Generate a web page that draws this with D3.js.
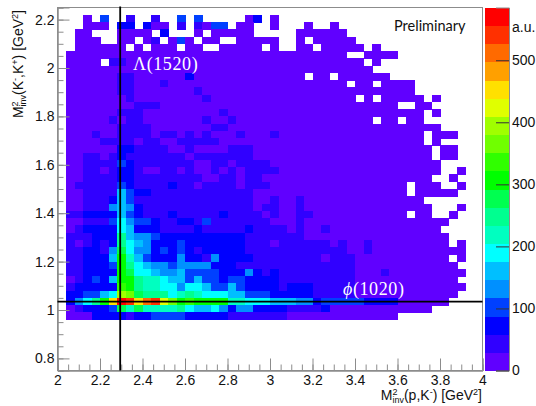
<!doctype html>
<html>
<head>
    <style>
        body { margin: 0; background: white; }
        svg { display: block; }
        text { font-family: "Liberation Sans", Arial, sans-serif; fill: #111; }
        .axis path, .axis line { stroke: #8c8c8c; stroke-width: 1; }
        .axis text { font-size: 14px; fill: #111; font-family: "Liberation Sans", Arial, sans-serif; }
    </style>
    <script src="https://d3js.org/d3.v7.min.js"></script>
</head>
<body>
    <svg width="536" height="406"></svg>
    <script>
        // bins of the 2D histogram
        var xBinWidth = 0.04,
            yBinWidth = 0.03,
            topRowLow = 2.19;

        var xTicks = [2, 2.2, 2.4, 2.6, 2.8, 3, 3.2, 3.4, 3.6, 3.8, 4];
        var yTicks = [0.8, 1, 1.2, 1.4, 1.6, 1.8, 2, 2.2];
        var zTicks = [0, 100, 200, 300, 400, 500];

        var markerMassX = 2.295,  // Lambda(1520) squared
            markerMassY = 1.035;  // phi(1020) squared

        // counts per row, top row first, left to right; 0 = empty, missing = empty
        var counts = [
            [0,0,0,15,0,102,0,0,44,0,0,44,0,0,102,0,102,0,0,0,0,0,15,73,0,15],
            [0,0,0,15,15,15,0,73,73,0,73,15,15,0,44,0,44,15,102,102,0,15,15,0,0,15,0,0,0,15,0,0,15],
            [0,0,15,15,0,0,0,15,15,15,15,0,73,0,0,0,15,0,15,15,15,15,15,0,0,0,0,0,15,15,15,15,15,15],
            [0,0,15,15,15,0,0,15,15,0,15,44,0,15,102,15,0,15,15,0,0,15,15,15,15,15,0,0,15,0,15,15,15,15,15],
            [0,0,15,15,15,15,15,15,0,15,0,15,15,15,0,15,15,0,0,15,15,15,15,15,0,15,0,0,15,15,0,15,15,15,15,15,0,15],
            [0,15,15,15,15,15,15,15,15,15, 15,15,15,15,15,15,15,15,15,15, 15,15,15,15,15,15,15,15,15,15, 15,15,15,15,0,0,15,15,15,15],
            [0,15,15,15,15,0,44,44,15,15, 15,15,15,15,15,15,15,15,15,15, 15,15,15,15,15,15,15,15,15,15, 15,15,15,15,15,15,0,15],
            [0,15,15,15,15,15,15,15,15,15, 15,15,15,15,15,15,15,15,15,15, 15,15,15,15,15,15,15,15,15,15, 15,15,15,15,15,15,15],
            [0,15,15,15,15,15,15,44,44,15, 15,15,15,15,15,73,15,15,15,15, 15,15,15,15,15,15,15,15,15,0, 15,15,0,15,15,15,15,15,15],
            [0,15,15,15,15,15,15,44,44,15, 15,15,44,15,15,15,15,15,15,15, 15,15,15,15,15,15,15,15,15,15, 15,15,15,15,0,15,15,0,15,15, 15,15],
            [0,15,15,15,15,15,15,44,44,15, 15,15,15,15,15,15,44,15,15,15, 15,15,15,15,15,15,15,15,15,15, 15,15,15,15,15,15,15,15,15,15, 15,15],
            [0,15,15,15,15,15,15,15,44,15, 15,15,15,15,15,15,15,44,15,15, 15,15,15,15,15,15,15,15,15,15, 15,15,15,15,15,0,15,0,15,15, 15,15,15,0,15],
            [0,15,15,15,15,15,15,15,15,44, 44,44,15,15,15,15,15,15,15,15, 15,15,15,15,15,15,15,15,15,15, 15,15,15,15,15,15,15,15,15,15, 0,0,15,15],
            [0,15,15,15,15,15,15,44,44,44, 15,15,15,15,15,15,15,15,15,44, 15,15,15,15,15,15,15,15,15,15, 15,15,15,15,15,15,15,15,15,15, 15,15,15,0,15],
            [0,15,15,15,15,15,44,15,44,44, 15,15,15,15,15,15,15,44,15,15, 44,15,15,15,15,15,15,15,15,15, 15,15,15,15,15,15,15,0,15,15, 0,15,15],
            [0,15,15,15,15,15,15,44,44,44, 44,15,15,15,15,15,15,15,44,44, 15,15,15,15,15,15,15,15,15,15, 15,15,15,15,15,15,15,15,15,15, 15,15,15,15,15],
            [0,15,15,15,44,15,15,44,44,44, 44,15,44,44,15,44,15,44,15,15, 15,44,15,15,15,44,15,15,15,15, 15,15,15,15,15,15,15,15,15,15, 15,15,15,0,15,15,15],
            [0,15,15,15,15,44,44,44,44,15, 44,44,15,15,44,44,44,44,44,15, 15,15,15,15,15,15,15,15,15,15, 15,15,15,15,15,15,15,15,15,15, 15,15,15,0,15],
            [0,15,15,15,15,15,15,73,73,44, 44,44,44,15,15,44,15,15,15,15, 44,44,44,15,15,15,15,15,15,15, 15,15,15,15,15,15,15,15,15,15, 15,15,15,15,0,15,15],
            [0,15,15,44,44,15,44,73,44,44, 44,44,44,44,44,15,44,44,44,44, 44,44,44,15,15,15,15,15,15,15, 15,15,15,15,15,15,15,15,15,15, 15,15,15,15,0,15,15],
            [0,15,15,44,44,44,44,102,73,44, 44,44,44,44,44,44,15,15,44,44, 15,44,44,44,44,15,15,15,15,15, 15,15,15,15,15,15,15,15,15,15, 15,15,15,15,15],
            [0,15,15,44,44,15,44,73,73,44, 15,15,44,44,15,44,15,15,44,15, 44,15,44,44,44,44,15,15,15,15, 15,15,15,15,15,15,15,15,15,15, 15,15,15,15,15,0,0,15],
            [0,15,15,44,44,44,44,73,73,44, 44,44,44,44,44,44,44,15,15,44, 44,15,44,44,15,15,15,15,15,15, 15,15,15,15,15,15,15,15,15,15, 15,15,15,15,0,0,15],
            [0,15,44,44,44,44,44,102,73,44, 44,44,44,73,44,44,15,44,44,44, 44,15,44,44,44,15,15,15,15,15, 15,15,15,15,15,15,15,15,15,15, 15,0,15,15,15,0,0,15],
            [0,15,15,44,44,44,44,161,102,73, 73,44,44,44,44,44,44,44,44,44, 44,44,44,15,15,15,15,15,15,15, 15,15,15,15,15,15,15,15,15,15, 15,0,15,15,15,15,15],
            [0,15,15,44,44,44,73,161,102,44, 44,44,44,44,44,44,44,44,44,44, 44,44,44,15,15,44,15,15,44,15, 15,15,15,15,15,15,15,15,15,15, 15,15,15],
            [0,15,15,44,44,44,132,161,132,73, 44,44,44,44,44,44,44,44,44,44, 44,44,44,15,44,44,15,15,44,15, 15,15,15,15,15,15,15,15,15,15, 15,15,15,15,0,0,0,15],
            [0,44,44,73,73,73,73,161,102,73, 44,44,44,73,44,44,44,44,44,73, 44,44,44,44,15,44,15,15,44,44, 15,15,15,15,15,15,15,15,15,15, 15,0,15,15,0,0,15],
            [0,15,15,44,44,44,102,190,132,102, 102,73,44,44,73,73,44,102,44,44, 44,44,44,44,44,15,15,15,44,15, 15,15,15,15,15,15,15,15,15,15, 15,15,15,15,15,15],
            [0,15,44,73,73,73,73,190,161,73, 73,73,44,44,44,44,73,44,44,44, 44,44,73,44,44,44,44,15,44,15, 15,44,15,15,15,15,15,15,15,15, 15,15,15,15,15],
            [0,44,44,44,73,73,73,249,161,132, 132,102,73,73,73,73,73,73,73,73, 73,73,44,44,44,44,44,44,44,15, 15,15,15,15,15,15,15,15,15,15, 15,15,15,15,15,15],
            [0,44,15,44,73,44,73,249,190,161, 132,73,73,73,102,73,73,73,73,73, 73,73,44,44,44,15,44,44,44,44, 44,44,15,44,15,15,44,15,15,15, 15,15,15,15,15,15,0,15],
            [0,44,44,73,73,44,132,278,190,132, 132,73,102,73,102,73,44,73,73,73, 73,73,44,44,44,44,44,44,44,44, 44,44,44,44,15,15,44,15,15,15, 15,15,15,15,15,15,15,15],
            [0,44,44,73,73,73,161,307,219,161, 102,73,73,73,132,73,73,44,132,73, 73,73,73,44,44,44,44,44,44,44, 44,15,44,44,44,15,15,15,15,15, 15,15,15,15,15,15,0,15],
            [0,44,44,73,73,73,102,307,249,190, 161,132,132,102,132,132,132,132,73,73, 73,44,44,44,44,44,44,44,44,44, 44,44,44,44,44,15,15,15,15,15, 15,15,15,15,15,15,15],
            [0,44,44,73,73,73,73,307,278,190, 190,161,132,132,161,102,102,102,102,73, 73,73,132,73,44,73,44,44,44,44, 44,44,44,44,44,15,15,15,44,15, 15,15,15,15,15,15,15,15],
            [0,15,44,73,102,73,161,307,307,249, 219,219,190,161,161,102,161,102,102,73, 102,102,73,73,73,73,44,44,44,44, 44,44,44,44,44,15,15,15,15,15, 15,15,15,15,15,15,15],
            [0,44,73,73,73,73,73,336,307,249, 219,219,190,190,132,190,190,161,102,102, 161,102,73,73,73,73,44,73,73,73, 44,44,44,44,44,15,15,15,15,15, 15,15,15,15,15,15,15,15],
            [0,73,73,102,102,161,190,395,366,278, 249,249,249,190,219,249,219,190,190,190, 161,161,102,102,102,73,73,73,73,73, 44,44,44,44,44,15,15,15,15,15, 15,15,15,15,15,15,15],
            [0,73,132,190,249,307,453,570,541,453, 512,541,424,366,307,336,307,307,307,307, 219,219,190,190,190,161,161,161,132,132, 73,102,102,102,102,102,73,73,73,73, 15,15,15,15,15,15],
            [0,15,44,73,73,73,102,278,219,278, 219,219,219,219,249,190,161,161,190,132, 73,132,132,73,73,73,73,44,44,44, 44,73,15,15,15,15,15,15,15,15, 15,15,15,15],
            [0,15,15,15,73,73,73,73,44,73, 73,102,102,102,102,73,73,73,73,73, 44,44,44,44,44,44,44,15,15,15, 15,15,15,15,15,15,15,15,15,15]
        ];

        // the 20 palette steps, lowest first
        var levelColors = ["#6000ff", "#3000ff", "#0000ff", "#0040ff", "#0090ff",
                           "#00bfff", "#00ffff", "#00ffc0", "#00ff90", "#00ff50",
                           "#00ff00", "#30ff00", "#70ff00", "#a0ff00", "#e0ff00",
                           "#ffe000", "#ffa000", "#ff6a00", "#ff3000", "#ff0000"];

        var svg = d3.select("svg");

        var xScale = d3.scaleLinear().domain([2, 4]).range([57.5, 482.5]),
            yScale = d3.scaleLinear().domain([0.75, 2.25]).range([370.5, 7.5]),
            zScale = d3.scaleLinear().domain([0, 585]).range([370.5, 7.5]),
            colorScale = d3.scaleQuantize().domain([0, 585]).range(levelColors);

        var cells = [];
        counts.forEach(function(row, r) {
            row.forEach(function(v, c) {
                if (v > 0) cells.push({ c: c, r: r, v: v });
            });
        });

        var g = svg.append("g").attr("shape-rendering", "crispEdges");

        g.selectAll(".cell")
         .data(cells)
         .enter().append("rect")
         .attr("class", "cell")
         .attr("x", function(d) { return xScale(2 + d.c * xBinWidth); })
         .attr("y", function(d) { return yScale(topRowLow - d.r * yBinWidth + yBinWidth); })
         .attr("width", xScale(2 + xBinWidth) - xScale(2) + 0.5)
         .attr("height", yScale(0.75) - yScale(0.75 + yBinWidth) + 0.5)
         .attr("fill", function(d) { return colorScale(d.v); });

        // frame
        svg.append("rect")
           .attr("x", xScale(2)).attr("y", yScale(2.25))
           .attr("width", xScale(4) - xScale(2)).attr("height", yScale(0.75) - yScale(2.25))
           .attr("fill", "none").attr("stroke", "#8c8c8c");

        // minor ticks, then major ticks, both pointing inward
        svg.append("g").attr("class", "axis")
           .attr("transform", "translate(0," + yScale(0.75) + ")")
           .call(d3.axisBottom(xScale).tickValues(d3.range(2, 4.001, 0.05)).tickSize(-6).tickFormat(""));
        svg.append("g").attr("class", "axis")
           .attr("transform", "translate(0," + yScale(0.75) + ")")
           .call(d3.axisBottom(xScale).tickValues(xTicks).tickSize(-12).tickPadding(5).tickFormat(d3.format("~g")));

        svg.append("g").attr("class", "axis")
           .attr("transform", "translate(" + xScale(2) + ",0)")
           .call(d3.axisLeft(yScale).tickValues(d3.range(0.75, 2.2501, 0.05)).tickSize(-6).tickFormat(""));
        svg.append("g").attr("class", "axis")
           .attr("transform", "translate(" + xScale(2) + ",0)")
           .call(d3.axisLeft(yScale).tickValues(yTicks).tickSize(-12).tickPadding(3).tickFormat(d3.format("~g")));

        // palette
        var zStep = 585 / levelColors.length;
        svg.append("g").attr("shape-rendering", "crispEdges")
           .selectAll("rect")
           .data(levelColors)
           .enter().append("rect")
           .attr("x", 485)
           .attr("y", function(d, i) { return zScale((i + 1) * zStep); })
           .attr("width", 24)
           .attr("height", zScale(0) - zScale(zStep) + 0.5)
           .attr("fill", function(d) { return d; });

        var zAxis = svg.append("g").attr("class", "axis")
           .attr("transform", "translate(509,0)")
           .call(d3.axisRight(zScale).tickValues(zTicks).tickSize(-13).tickPadding(3));
        zAxis.select(".domain").attr("stroke", "#b0b0b0");
        zAxis.selectAll("line").style("stroke", "#333");

        svg.append("text").attr("x", 512).attr("y", 32).attr("font-size", "14px").text("a.u.");

        // resonance lines
        svg.append("line")
           .attr("x1", xScale(markerMassX)).attr("x2", xScale(markerMassX))
           .attr("y1", yScale(2.25) - 1).attr("y2", yScale(0.75))
           .attr("stroke", "black").attr("stroke-width", 1.8);
        svg.append("line")
           .attr("x1", xScale(2)).attr("x2", xScale(4))
           .attr("y1", yScale(markerMassY)).attr("y2", yScale(markerMassY))
           .attr("stroke", "black").attr("stroke-width", 1.8);

        svg.append("text")
           .attr("x", 133).attr("y", 70)
           .style("font-family", '"Liberation Serif", serif').style("fill", "white")
           .attr("font-size", "18px").attr("letter-spacing", "0.6")
           .text("\u039b(1520)");
        var phi = svg.append("text")
           .attr("x", 343).attr("y", 295)
           .style("font-family", '"Liberation Serif", serif').style("fill", "white")
           .attr("font-size", "18px").attr("letter-spacing", "0.6");
        phi.append("tspan").attr("font-style", "italic").text("\u03d5");
        phi.append("tspan").text("(1020)");

        svg.append("text")
           .attr("x", 394).attr("y", 31)
           .style("font-family", "Lato, sans-serif")
           .attr("font-size", "14.5px")
           .text("Preliminary");

        // axis titles with stacked sup/sub on M
        function massTitle(sel, inner) {
            sel.attr("font-size", "14px").attr("text-anchor", "end");
            sel.append("tspan").text("M");
            sel.append("tspan").attr("font-size", "9px").attr("dy", -5).text("2");
            sel.append("tspan").attr("font-size", "9px").attr("dx", -5).attr("dy", 8).text("inv");
            sel.append("tspan").attr("dy", -3).text("(");
            inner.forEach(function(part) {
                if (part.sup) sel.append("tspan").attr("font-size", "9px").attr("dy", -5).text(part.sup);
                else sel.append("tspan").attr("dy", part.after ? 5 : 0).text(part.text);
            });
            sel.append("tspan").attr("font-size", "9px").attr("dy", -5).text("2");
            sel.append("tspan").attr("dy", 5).text("]");
        }

        massTitle(svg.append("text").attr("x", 482).attr("y", 400), [
            { text: "p,K" }, { sup: "-" }, { text: ") [GeV", after: true }
        ]);
        massTitle(svg.append("text").attr("transform", "translate(23,10) rotate(-90)"), [
            { text: "K" }, { sup: "-" }, { text: ",K", after: true }, { sup: "+" }, { text: ") [GeV", after: true }
        ]);
    </script>
</body>
</html>
